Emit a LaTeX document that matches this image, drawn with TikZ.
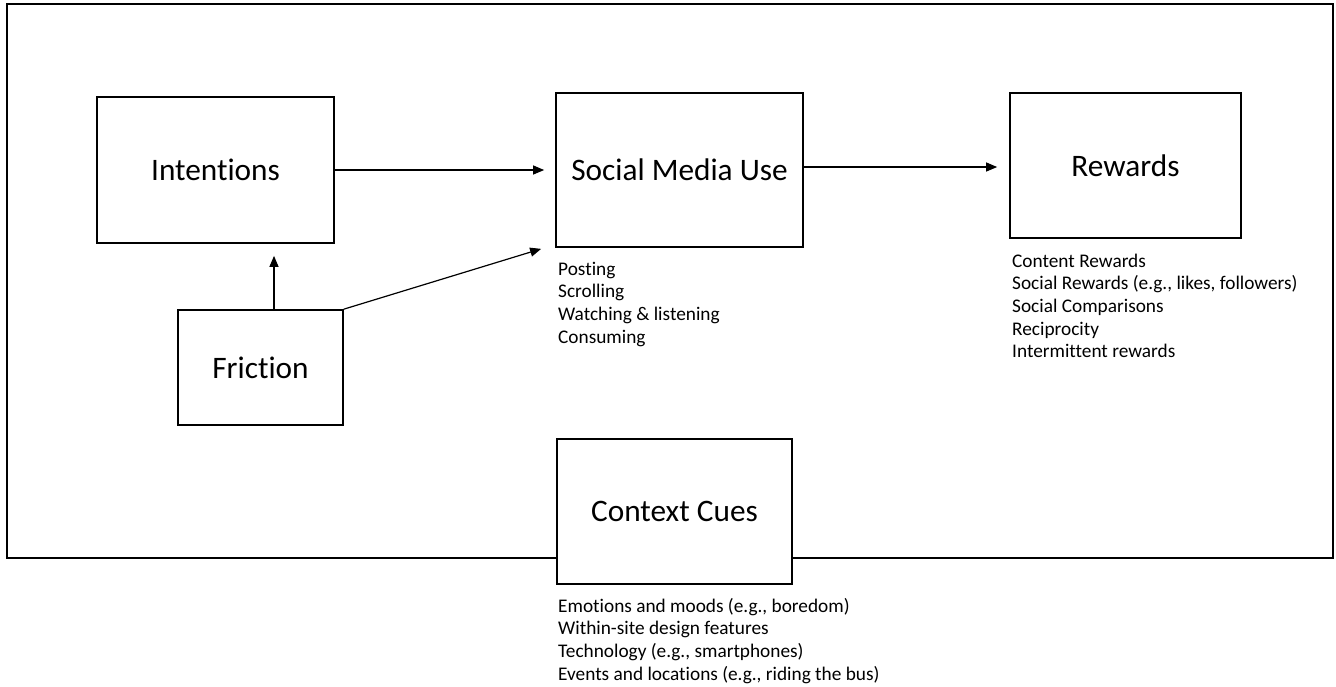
\documentclass[tikz,border=0pt]{standalone}
\usepackage{fontspec}
\setmainfont{Carlito}[Ligatures=NoCommon]
\usetikzlibrary{arrows.meta,calc}
\begin{document}
\begin{tikzpicture}[x=1pt,y=-1pt,
  box/.style={draw=black,line width=1.7pt,fill=white,inner sep=0pt,font=\fontsize{31.3}{37}\selectfont},
  arr/.style={line width=1.2pt,-{Triangle[length=11pt,width=9pt]}},
  itemlist/.style={anchor=north west,inner sep=0pt,align=left,font=\fontsize{19.3}{22.7}\selectfont}]
\useasboundingbox (0,0) rectangle (1336,686);
\draw[line width=1.8pt] (7,4) rectangle (1333,558);
\node[box,minimum width=237pt,minimum height=146pt] (intent) at (215.5,170) {Intentions};
\node[box,minimum width=247pt,minimum height=154pt] (smu) at (679.5,170) {Social Media Use};
\node[box,minimum width=231pt,minimum height=145pt] (rew) at (1125.5,165.5) {Rewards};
\node[box,minimum width=165pt,minimum height=115pt] (fric) at (260.5,367.5) {Friction};
\node[box,minimum width=235pt,minimum height=145pt] (ctx) at (674.5,511.5) {Context Cues};
\node[itemlist] (smulist) at (558,259) {\strut Posting\\Scrolling\\Watching \& listening\\Consuming};
\node[itemlist] (rewlist) at (1012,251) {\strut Content Rewards\\Social Rewards (e.g., likes, followers)\\Social Comparisons\\Reciprocity\\Intermittent rewards};
\node[itemlist] (ctxlist) at (558,596) {\strut Emotions and moods (e.g., boredom)\\Within-site design features\\Technology (e.g., smartphones)\\Events and locations (e.g., riding the bus)};
\coordinate (fup) at ($(fric.north)+(13.5,0)$);
\draw[arr] (fup) -- ([yshift=-12pt]fup |- intent.south);
\draw[arr] (intent.east) -- ([xshift=-11pt]smu.west |- intent.east);
\draw[arr] ([yshift=3pt]smu.east) -- ([xshift=-12pt,yshift=3pt]rew.west |- smu.east);
\draw[arr] (fric.north east) -- ([xshift=-14pt,yshift=-1pt]smu.south west);
\end{tikzpicture}
\end{document}
